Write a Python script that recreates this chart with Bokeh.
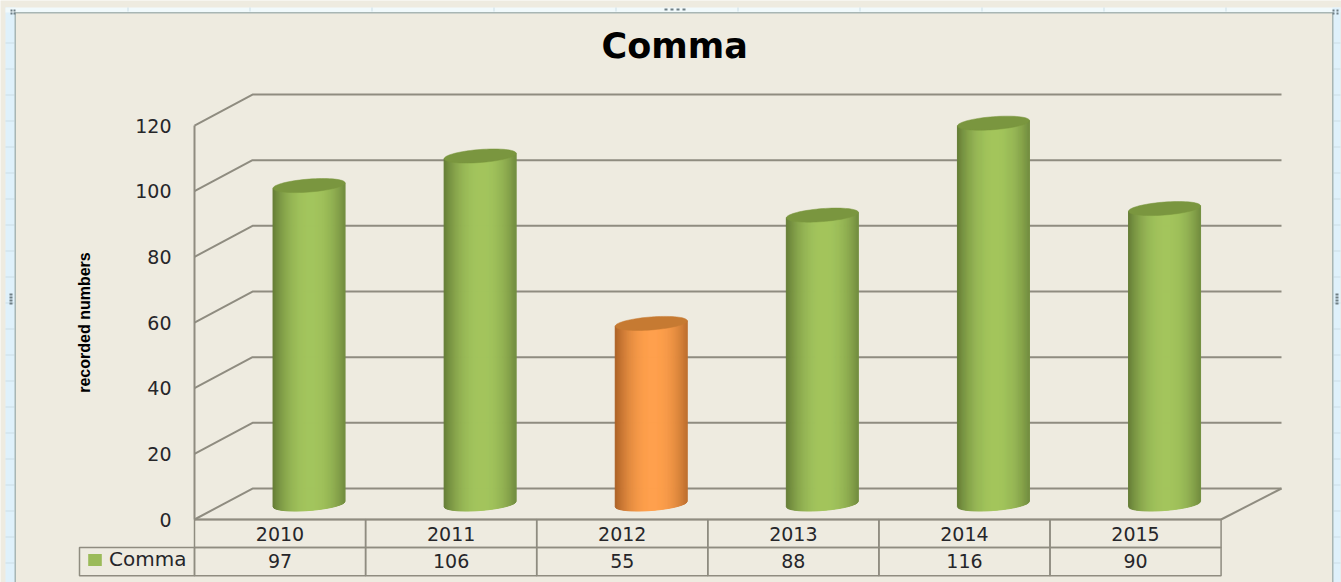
from bokeh.plotting import figure
from bokeh.embed import file_html
from bokeh.resources import INLINE
from bokeh.models import (BoxAnnotation, ColumnDataSource, FixedTicker, Legend, LegendItem,
                          LabelSet, Range1d)
from bokeh.core.properties import value as pvalue
import math

# ---- data ----
years = ["2010", "2011", "2012", "2013", "2014", "2015"]
counts = [97, 106, 55, 88, 116, 90]
series_name = "Comma"
y_ticks = [0, 20, 40, 60, 80, 100, 120]
highlight_year = "2012"

# ---- styles / layout ----
BG = "#eeebe0"
GRID = "#8f8c80"
TXT = "#26262a"
GREEN = dict(edge=(100, 124, 54), mid=(163, 197, 93), top="#7a963f", key="#9bbb59")
ORANGE = dict(edge=(170, 96, 38), mid=(255, 160, 76), top="#c67a32")
PXX, PXY = 171.1, 3.283          # pixels per category / per value unit
DEPTH_X, DEPTH_Y = 0.339, 9.44   # back plane shift in data units
ROW1, ROW2 = -8.55, -17.1        # table row bottoms in value units
W, H = 1341, 582
X0, Y0 = 194, 519                # pixel position of the origin
FONT_PX = "19px"

p = figure(width=W, height=H, output_backend="svg", toolbar_location=None,
           x_range=Range1d(-X0 / PXX, (W - X0) / PXX), y_range=Range1d((Y0 - H) / PXY, Y0 / PXY),
           background_fill_color=BG, border_fill_color=BG,
           min_border=0, outline_line_color=None)
p.grid.visible = False

# title
p.title.text = series_name
p.title.align = "left"
p.title.offset = 601
p.title.standoff = -130
p.title.text_font = "DejaVu Sans"
p.title.text_font_size = "35px"
p.title.text_font_style = "bold"
p.title.text_color = "#000000"

# y axis
ya = p.yaxis[0]
ya.fixed_location = 0
ya.ticker = FixedTicker(ticks=y_ticks)
ya.bounds = (0, 120)
ya.axis_line_color = GRID
ya.axis_line_width = 2
ya.major_tick_line_color = None
ya.minor_tick_line_color = None
ya.major_label_standoff = 17
ya.major_label_text_font = "DejaVu Sans"
ya.major_label_text_font_size = FONT_PX
ya.major_label_text_color = TXT
ya.axis_label = "recorded numbers"
ya.axis_label_text_font = "Liberation Sans"
ya.axis_label_text_font_size = "16px"
ya.axis_label_text_font_style = "bold"
ya.axis_label_text_color = "#000000"
ya.axis_label_standoff = 39

# x axis
xa = p.xaxis[0]
xa.fixed_location = 0
centers = [i + 0.5 for i in range(len(years))]
xa.ticker = FixedTicker(ticks=centers)
xa.bounds = (0, len(years))
xa.major_label_overrides = {c: y for c, y in zip(centers, years)}
xa.axis_line_color = GRID
xa.axis_line_width = 2
xa.major_tick_line_color = None
xa.minor_tick_line_color = None
xa.major_label_standoff = 1
xa.major_label_text_font = "DejaVu Sans"
xa.major_label_text_font_size = FONT_PX
xa.major_label_text_color = TXT

# 3D walls
n = len(years)
wall_right = (1281 - X0) / PXX
wall_xs, wall_ys = [], []
for t in y_ticks:
    wall_xs.append([0, DEPTH_X, wall_right])
    wall_ys.append([t, t + DEPTH_Y, t + DEPTH_Y])
wall_xs.append([n, wall_right])
wall_ys.append([0, DEPTH_Y])
p.multi_line(wall_xs, wall_ys, line_color=GRID, line_width=2)

# cylinders
A = 36 / PXX     # semi-width
B = 6.5 / PXY    # semi-height of the ellipse
TILT = 0.075 * PXX / PXY  # value units per category unit
STRIPS = 72
LIGHT_AT = 0.06

def shade(c, u):
    d = abs(u - LIGHT_AT) / (1 + LIGHT_AT)
    k = d ** 2.2
    return "#%02x%02x%02x" % tuple(round(m + (e - m) * k) for m, e in zip(c["mid"], c["edge"]))

for i, (yr, v) in enumerate(zip(years, counts)):
    c = ORANGE if yr == highlight_year else GREEN
    cx = i + 0.5 + DEPTH_X / 2
    y0 = DEPTH_Y / 2
    y1 = v + DEPTH_Y / 2
    xs, ys, cols = [], [], []
    for s in range(STRIPS):
        u0 = -1 + 2 * s / STRIPS
        u1 = -1 + 2 * (s + 1) / STRIPS
        low0 = y0 + TILT * A * u0 - B * math.sqrt(max(0, 1 - u0 * u0))
        low1 = y0 + TILT * A * u1 - B * math.sqrt(max(0, 1 - u1 * u1))
        up0 = y1 + TILT * A * u0
        up1 = y1 + TILT * A * u1
        xs.append([cx + A * u0, cx + A * u1, cx + A * u1, cx + A * u0])
        ys.append([low0, low1, up1, up0])
        cols.append(shade(c, (u0 + u1) / 2))
    p.patches(xs, ys, fill_color=cols, line_color=cols, line_width=1)
    ex, ey = [], []
    for k in range(73):
        a = 2 * math.pi * k / 72
        u = math.cos(a)
        ex.append(cx + A * u)
        ey.append(y1 + TILT * A * u + B * math.sin(a))
    p.patch(ex, ey, fill_color=c["top"], line_color=c["top"], line_width=0.5)

# data table
def cell(l, r, t, b):
    p.add_layout(BoxAnnotation(left=l, right=r, top=t, bottom=b, fill_alpha=0,
                               line_color=GRID, line_alpha=1, line_width=1.5))

for i in range(n):
    cell(i, i + 1, 0, ROW1)
    cell(i, i + 1, ROW1, ROW2)
cell(-115 / PXX, 0, ROW1, ROW2)
src = ColumnDataSource(dict(x=centers, y=[(ROW1 + ROW2) / 2 + 0.3] * n, t=[str(v) for v in counts]))
p.add_layout(LabelSet(x="x", y="y", text="t", source=src, text_align="center", text_baseline="middle",
                      text_font=pvalue("DejaVu Sans"), text_font_size=FONT_PX, text_color=TXT))

# legend in the table
key = p.quad(left=[0], right=[0], top=[0], bottom=[0], fill_color=GREEN["key"], line_color=None)
leg = Legend(items=[LegendItem(label=series_name, renderers=[key])], location=(86, 11),
             background_fill_alpha=0, border_line_color=None, glyph_width=17, glyph_height=15,
             label_text_font="DejaVu Sans", label_text_font_size="20px", label_text_color=TXT,
             label_standoff=6, margin=0, padding=0, spacing=0, label_height=18)
p.add_layout(leg, "center")

# worksheet frame round the chart object (pixel boxes given from the top; screen y runs upwards here)
STRIP = "#dff1fb"
TOPSTRIP = "#f1fafc"
EDGE = "#a8b6b4"
TICK = "#cbdde6"
DOT = "#6f7f85"
boxes = [(5, 15, 7, H, STRIP), (5, W - 1, 7, 12, TOPSTRIP), (1332, W - 1, 7, H, STRIP)]
boxes += [(5, 14, y, y + 1, TICK) for y in range(42, H, 26)]
boxes += [(1333, W - 1, y, y + 1, TICK) for y in range(42, H, 26)]
boxes += [(x, x + 1, 7, 11, TICK) for x in range(127, W - 10, 122)]
boxes += [(14, 15.5, 12, H, EDGE), (14, 1333, 11.5, 13, EDGE), (1331.5, 1333, 12, H, EDGE)]
boxes += [(x, x + 3, 8, 10, DOT) for x in (664, 670, 676, 682)]
boxes += [(9, 12, y, y + 2, DOT) for y in (293, 296, 299, 302)]
boxes += [(1335, 1338, y, y + 2, DOT) for y in (293, 296, 299, 302)]
boxes += [(x, x + 2, y, y + 2, DOT) for x in (10, 13, 1332, 1336) for y in (9, 12)]
for l, r, t, b, col in boxes:
    p.add_layout(BoxAnnotation(left=l, right=r, top=H - t, bottom=H - b, left_units="screen", right_units="screen",
                               top_units="screen", bottom_units="screen", fill_color=col, fill_alpha=1,
                               line_color=None))

open("out.html", "w").write(file_html(p, INLINE))
